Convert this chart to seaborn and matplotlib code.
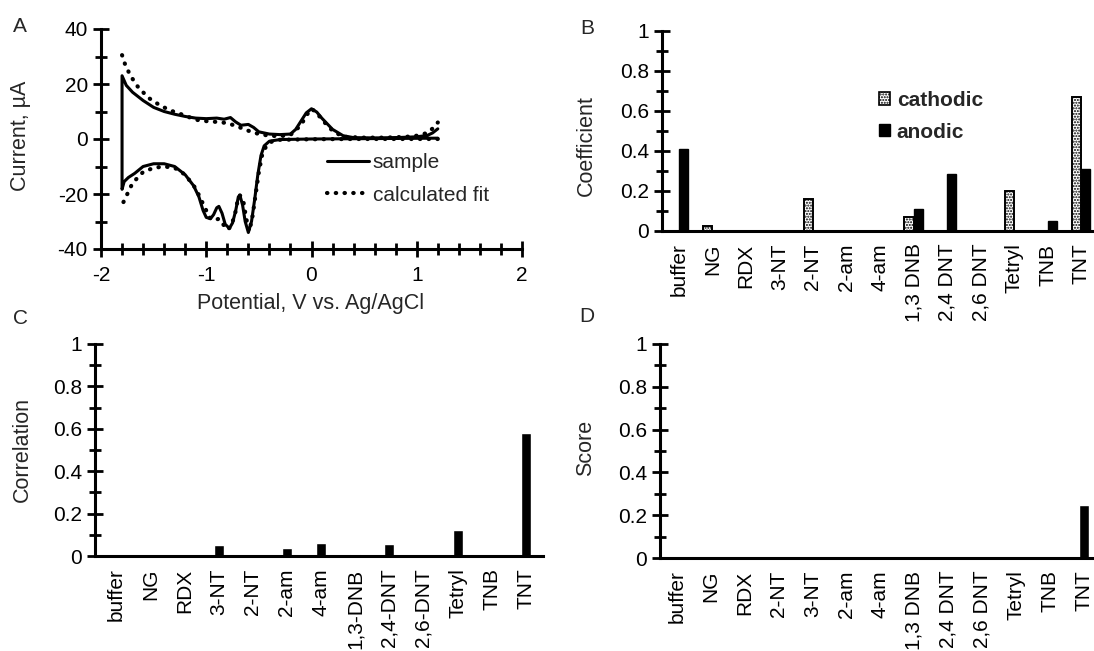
import matplotlib
matplotlib.use("Agg")
import matplotlib.pyplot as plt
import matplotlib.ticker as mticker
from matplotlib.lines import Line2D
from matplotlib.patches import Patch
import seaborn as sns
import pandas as pd

# ---- panel A: cyclic voltammogram (sample and fitted curve) ----
sample_x = [1.2, 0.8, 0.4, 0.0, -0.3, -0.4, -0.45, -0.48, -0.51, -0.54, -0.57, -0.6,
            -0.63, -0.655, -0.68, -0.695, -0.72, -0.75, -0.78, -0.82, -0.85, -0.88,
            -0.9, -0.93, -0.96, -1.0, -1.03, -1.07, -1.12, -1.2, -1.3, -1.4, -1.5,
            -1.6, -1.68, -1.74, -1.78, -1.8,
            -1.8, -1.76, -1.7, -1.6, -1.5, -1.4, -1.3, -1.2, -1.1, -1.0, -0.9, -0.83,
            -0.77, -0.72, -0.67, -0.6, -0.55, -0.5, -0.4, -0.3, -0.2, -0.15, -0.1,
            -0.05, 0.0, 0.05, 0.1, 0.2, 0.3, 0.4, 0.6, 0.8, 1.0, 1.1, 1.15, 1.2]
sample_y = [0.3, 0.2, 0.1, 0.0, -0.2, -0.8, -2.5, -6, -13, -22, -30, -34,
            -30, -24, -20.5, -21, -26, -30.5, -32.5, -31, -27, -24.5,
            -25, -27.5, -29, -28.5, -26, -21, -17, -13, -10, -9, -9,
            -10, -12.5, -14, -15.5, -18.3,
            23, 19.5, 17, 14, 11.5, 10, 9, 8.2, 7.6, 7.4, 7.6, 7.2,
            7.8, 6.2, 5, 5.3, 4.2, 2.6, 1.8, 1.6, 1.8, 3.5, 6.5,
            9.5, 11, 9.8, 7.5, 3.5, 1.2, 0.5, 0.4, 0.5, 0.8, 1.3, 2.2, 3.7]

fit_low_x = [1.2, 0.8, 0.4, 0.0, -0.3, -0.38, -0.43, -0.47, -0.5, -0.53, -0.56, -0.59,
             -0.62, -0.65, -0.68, -0.7, -0.73, -0.77, -0.8, -0.84, -0.88, -0.92, -0.96,
             -1.0, -1.05, -1.1, -1.2, -1.3, -1.4, -1.5, -1.6, -1.7, -1.75, -1.8]
fit_low_y = [0.0, 0.0, 0.0, -0.1, -0.3, -1, -2.5, -6, -12, -20, -28, -33.5,
             -29, -22, -20.5, -22, -28, -32, -33, -31, -29, -29.5, -29,
             -26, -22, -18, -13, -10.5, -10, -10.5, -12, -16, -20, -24]
fit_up_x = [-1.8, -1.77, -1.72, -1.65, -1.55, -1.45, -1.35, -1.2, -1.1, -1.0, -0.9, -0.8,
            -0.7, -0.6, -0.5, -0.4, -0.3, -0.2, -0.1, -0.05, 0.0, 0.05, 0.1, 0.2, 0.3,
            0.5, 0.7, 0.9, 1.0, 1.1, 1.15, 1.2]
fit_up_y = [30.5, 27, 23, 19, 15, 12.5, 10.5, 8.5, 7, 6.5, 6.2, 5.8,
            4.5, 3, 1.8, 1.2, 1.0, 1.5, 5, 8.5, 11, 9.5, 7, 3, 0.8,
            0.5, 0.5, 0.8, 1.2, 2.2, 3.8, 6]

# ---- panel B: coefficients ----
b_names = ["buffer", "NG", "RDX", "3-NT", "2-NT", "2-am", "4-am", "1,3 DNB",
           "2,4 DNT", "2,6 DNT", "Tetryl", "TNB", "TNT"]
b_cathodic = [0, 0.025, 0, 0, 0.162, 0, 0, 0.072, 0, 0, 0.198, 0, 0.67]
b_anodic = [0.408, 0, 0, 0, 0, 0, 0, 0.112, 0.286, 0, 0, 0.05, 0.309]

# ---- panel C: correlation ----
c_names = ["buffer", "NG", "RDX", "3-NT", "2-NT", "2-am", "4-am", "1,3-DNB",
           "2,4-DNT", "2,6-DNT", "Tetryl", "TNB", "TNT"]
c_values = [0, 0, 0, 0.053, 0, 0.039, 0.06, 0.009, 0.057, 0, 0.123, 0, 0.582]

# ---- panel D: score ----
d_names = ["buffer", "NG", "RDX", "2-NT", "3-NT", "2-am", "4-am", "1,3 DNB",
           "2,4 DNT", "2,6 DNT", "Tetryl", "TNB", "TNT"]
d_values = [0, 0, 0, 0, 0, 0, 0, 0, 0, 0, 0.003, 0, 0.246]

sns.set_style("white")
plt.rcParams["font.family"] = ["Liberation Sans", "DejaVu Sans"]
plt.rcParams.update({
    "xtick.bottom": True, "ytick.left": True,
    "xtick.direction": "inout", "ytick.direction": "inout",
    "xtick.major.size": 12, "ytick.major.size": 12,
    "xtick.minor.size": 9, "ytick.minor.size": 9,
    "xtick.major.width": 2, "ytick.major.width": 2,
    "xtick.minor.width": 2, "ytick.minor.width": 2,
    "xtick.color": "black", "ytick.color": "black",
})
FS = 15
FT = 15.5
W, H = 1094, 651
DOTS = (0, (0.1, 2.0))

fig = plt.figure(figsize=(W / 100, H / 100), dpi=100)


def px_axes(left, top, right, bottom):
    return fig.add_axes([left / W, 1 - bottom / H, (right - left) / W, (bottom - top) / H])


def style_axes(ax):
    for s in ["top", "right"]:
        ax.spines[s].set_visible(False)
    for s in ["left", "bottom"]:
        ax.spines[s].set_linewidth(2.2)
        ax.spines[s].set_color("black")
    ax.tick_params(axis="both", which="both", labelsize=FS, bottom=True, left=True)


# Panel A
axA = px_axes(101, 29, 522, 249)
sample_df = pd.DataFrame({"x": sample_x, "y": sample_y})
sns.lineplot(data=sample_df, x="x", y="y", sort=False, estimator=None, color="black",
             linewidth=2.2, ax=axA)
for fx, fy in [(fit_low_x, fit_low_y), (fit_up_x, fit_up_y)]:
    fit_df = pd.DataFrame({"x": fx, "y": fy})
    sns.lineplot(data=fit_df, x="x", y="y", sort=False, estimator=None, color="black",
                 linewidth=3, linestyle=DOTS, dash_capstyle="round", ax=axA)
axA.set_xlim(-2, 2)
axA.set_ylim(-40, 40)
axA.xaxis.set_major_locator(mticker.MultipleLocator(1))
axA.xaxis.set_minor_locator(mticker.MultipleLocator(0.2))
axA.yaxis.set_major_locator(mticker.MultipleLocator(20))
axA.yaxis.set_minor_locator(mticker.MultipleLocator(10))
axA.xaxis.set_major_formatter(mticker.FuncFormatter(lambda v, p: "%g" % v))
axA.yaxis.set_major_formatter(mticker.FuncFormatter(lambda v, p: "%g" % v))
axA.set_xlabel("")
axA.set_ylabel("")
style_axes(axA)
axA.tick_params(axis="x", which="major", pad=6)
handles = [Line2D([], [], color="black", linewidth=2.2),
           Line2D([], [], color="black", linewidth=3, linestyle=DOTS,
                  dash_capstyle="round")]
axA.legend(handles, ["sample", "calculated fit"], frameon=False, fontsize=FS,
           loc="upper left", bbox_to_anchor=(327 / W, 1 - 153 / H),
           bbox_transform=fig.transFigure, handlelength=2.0, handletextpad=0.2,
           labelspacing=0.65, borderpad=0, borderaxespad=0)


def bar_axes(ax, names, left):
    ax.set_ylim(0, 1)
    ax.set_xlim(left, 12.5)
    ax.yaxis.set_major_locator(mticker.MultipleLocator(0.2))
    ax.yaxis.set_minor_locator(mticker.MultipleLocator(0.1))
    ax.yaxis.set_major_formatter(mticker.FuncFormatter(lambda v, p: "%g" % round(v, 2)))
    ax.set_xlabel("")
    ax.set_ylabel("")
    style_axes(ax)
    ax.tick_params(axis="x", which="both", length=0, pad=9)
    ax.set_xticks(range(len(names)))
    ax.set_xticklabels(names, rotation=90, va="top", ha="center", fontsize=FS)


# Panel B
axB = px_axes(662, 31, 1098, 231)
b_df = pd.DataFrame({
    "compound": b_names * 2,
    "value": b_cathodic + b_anodic,
    "type": ["cathodic"] * len(b_names) + ["anodic"] * len(b_names),
})
sns.barplot(data=b_df, x="compound", y="value", hue="type", order=b_names,
            hue_order=["cathodic", "anodic"], palette=["white", "black"],
            width=0.55, ax=axB, legend=False)
for bar in axB.containers[0]:
    bar.set_hatch("......")
    bar.set_edgecolor("black")
    bar.set_linewidth(1.4)
for bar in axB.containers[1]:
    bar.set_edgecolor("black")
bar_axes(axB, b_names, -0.5)
legB = [Patch(facecolor="white", edgecolor="black", hatch="......", linewidth=1.2),
        Patch(facecolor="black", edgecolor="black")]
axB.legend(legB, ["cathodic", "anodic"], frameon=False,
           prop={"size": FS, "weight": "bold"}, loc="upper left",
           bbox_to_anchor=(879 / W, 1 - 91 / H), bbox_transform=fig.transFigure,
           handlelength=0.55, handleheight=0.55, handletextpad=0.3, labelspacing=0.6,
           borderpad=0, borderaxespad=0)

# Panel C
axC = px_axes(95, 344, 543, 556)
c_df = pd.DataFrame({"compound": c_names, "value": c_values})
sns.barplot(data=c_df, x="compound", y="value", order=c_names, color="black",
            width=0.29, ax=axC)
bar_axes(axC, c_names, -0.62)

# Panel D
axD = px_axes(660, 344, 1101, 558)
d_df = pd.DataFrame({"compound": d_names, "value": d_values})
sns.barplot(data=d_df, x="compound", y="value", order=d_names, color="black",
            width=0.3, ax=axD)
bar_axes(axD, d_names, -0.5)

# axis titles and panel letters
fig.text(311 / W, 1 - 303 / H, "Potential, V vs. Ag/AgCl", ha="center", va="center",
         fontsize=FT)
fig.text(21 / W, 1 - 136 / H, "Current, µA", rotation=90, ha="center", va="center",
         fontsize=FT)
fig.text(586 / W, 1 - 146 / H, "Coefficient", rotation=90, ha="center", va="center",
         fontsize=FT)
fig.text(22 / W, 1 - 449 / H, "Correlation", rotation=90, ha="center", va="center",
         fontsize=FT)
fig.text(586 / W, 1 - 448 / H, "Score", rotation=90, ha="center", va="center",
         fontsize=FT)
for letter, x, y in [("A", 20, 27), ("B", 587, 28), ("C", 20, 318), ("D", 587, 316)]:
    fig.text(x / W, 1 - y / H, letter, ha="center", va="center", fontsize=FS)

fig.savefig("out.png", dpi=100)
